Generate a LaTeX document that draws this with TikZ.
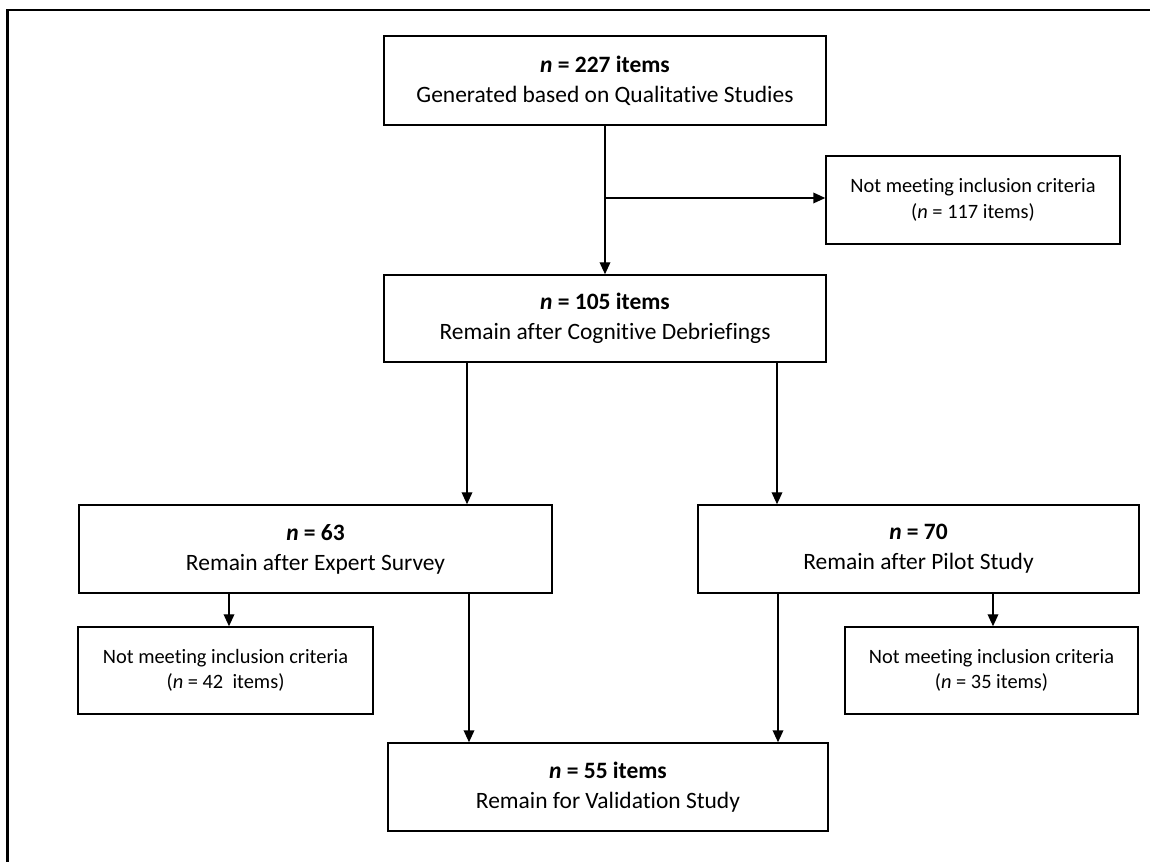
\documentclass[tikz,border=0pt]{standalone}
\usepackage{fontspec}
\setmainfont{Carlito}[Ligatures=NoCommon]
\usetikzlibrary{arrows.meta}
\begin{document}
\begin{tikzpicture}[x=0.75pt,y=-0.75pt,
  box/.style={draw, line width=1.1pt, align=center, inner sep=0pt, font=\fontsize{17.6}{22.5}\selectfont},
  sbox/.style={draw, line width=1.1pt, align=center, inner sep=0pt, font=\fontsize{15.3}{19}\selectfont},
  arr/.style={line width=1.1pt, -{Triangle[length=9pt,width=8pt]}},
  ln/.style={line width=1.1pt}]
\useasboundingbox (0,0) rectangle (1150,862);
\draw[line width=1.6pt] (7.5,862) -- (7.5,10) -- (1150,10);

\node[box, minimum width=442*0.75pt, minimum height=89*0.75pt] (top) at (605,80.5)
  {\textbf{\textit{n} = 227 items}\\Generated based on Qualitative Studies};
\node[sbox, minimum width=294*0.75pt, minimum height=88*0.75pt] (ex1) at (973,200)
  {Not meeting inclusion criteria\\(\textit{n} = 117 items)};
\node[box, minimum width=442*0.75pt, minimum height=87*0.75pt] (b105) at (605,318.5)
  {\textbf{\textit{n} = 105 items}\\Remain after Cognitive Debriefings};
\node[box, minimum width=473*0.75pt, minimum height=88*0.75pt] (b63) at (315.5,549)
  {\textbf{\textit{n} = 63}\\Remain after Expert Survey};
\node[box, minimum width=441*0.75pt, minimum height=88*0.75pt] (b70) at (918.5,549)
  {\textbf{\textit{n} = 70}\\Remain after Pilot Study};
\node[sbox, minimum width=295*0.75pt, minimum height=87*0.75pt] (ex2) at (225.5,670.5)
  {Not meeting inclusion criteria\\(\textit{n} = 42\ \ items)};
\node[sbox, minimum width=293*0.75pt, minimum height=87*0.75pt] (ex3) at (991.5,670.5)
  {Not meeting inclusion criteria\\(\textit{n} = 35 items)};
\node[box, minimum width=440*0.75pt, minimum height=88*0.75pt] (b55) at (608,787)
  {\textbf{\textit{n} = 55 items}\\Remain for Validation Study};

\coordinate (split) at (605,198);
\draw[arr] (top.south) -- (b105.north);
\draw[arr] (split) -- (ex1.west |- split);
\draw[arr] (467,0 |- b105.south) -- (467,0 |- b63.north);
\draw[arr] (777,0 |- b105.south) -- (777,0 |- b70.north);
\draw[arr] (229,0 |- b63.south) -- (229,0 |- ex2.north);
\draw[arr] (469,0 |- b63.south) -- (469,0 |- b55.north);
\draw[arr] (778,0 |- b70.south) -- (778,0 |- b55.north);
\draw[arr] (993,0 |- b70.south) -- (993,0 |- ex3.north);
\end{tikzpicture}
\end{document}
